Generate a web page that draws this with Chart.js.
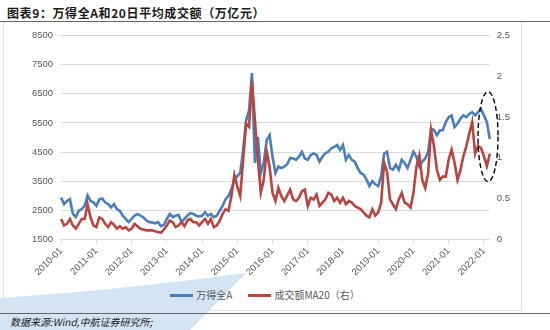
<!DOCTYPE html>
<html>
<head>
<meta charset="utf-8">
<script src="https://cdn.jsdelivr.net/npm/chart.js@4.4.1/dist/chart.umd.min.js"></script>
<style>
  body { margin: 0; width: 550px; height: 330px; background: #fff; position: relative; overflow: hidden; font-family: "Noto Sans CJK SC", sans-serif; }
  #swoosh { position: absolute; left: 0; top: 0; }
  #title { position: absolute; left: 7px; top: 4px; font-size: 12px; font-weight: bold; color: #1a1a1a; letter-spacing: 0.6px; }
  #rule { position: absolute; left: 0; top: 21px; width: 550px; height: 1px; background: #666; }
  #frame { position: absolute; left: 3px; top: 22px; width: 517px; height: 288px; border-left: 1px solid #e2e2e2; border-right: 1px solid #e2e2e2; border-bottom: 1px solid #e2e2e2; }
  #box { position: absolute; left: 0; top: 22px; }
  #legend { position: absolute; left: 0; top: 288px; width: 530px; text-align: center; font-size: 10px; color: #595959; line-height: 14px; }
  #legend span.item { display: inline-block; margin: 0 8px; }
  #legend span.swatch { display: inline-block; width: 23px; height: 3px; vertical-align: middle; margin-right: 3px; position: relative; top: -1px; }
  #srcrule { position: absolute; left: 0; top: 313px; width: 550px; height: 1px; background: #666; }
  #src { position: absolute; left: 10px; top: 314px; font-size: 10px; font-style: italic; color: #1a1a1a; }
</style>
</head>
<body>
<svg id="swoosh" width="550" height="330"><path d="M0,298 Q120,290 246,273 L190,330 L0,330 Z" fill="#d3e5f4"/></svg>
<div id="title">图表9：万得全A和20日平均成交额（万亿元）</div>
<div id="rule"></div>
<div id="frame"></div>
<div id="box"><canvas id="chart" width="520" height="258"></canvas></div>
<div id="legend"></div>
<div id="srcrule"></div>
<div id="src">数据来源:Wind,中航证券研究所;</div>
<script>
// monthly, 2010-01 .. 2022-03
const startYear = 2010;
const monthCount = 147;
const months = [];
for (let i = 0; i < monthCount; i++) {
  const y = startYear + Math.floor(i / 12);
  const m = (i % 12) + 1;
  months.push(y + '-' + (m < 10 ? '0' + m : m));
}

// 万得全A (left axis)
const windA = [
  2940, 2710, 2820, 2880, 2370, 2260, 2480, 2540, 2650, 3010, 2820, 2770,
  2650, 2870, 2900, 2770, 2710, 2600, 2710, 2540, 2480, 2310, 2200, 2090,
  2200, 2310, 2370, 2310, 2260, 2150, 2090, 2080, 2050, 2090, 1950, 2000,
  2200, 2370, 2260, 2310, 2340, 2090, 2200, 2310, 2400, 2370, 2310, 2290,
  2310, 2430, 2310, 2370, 2260, 2310, 2480, 2650, 2880, 2990, 3220, 3560,
  3670, 3780, 4570, 5590, 5930, 7220, 4130, 5020, 3780, 4130, 4910, 5080,
  4340, 3780, 4000, 3950, 4000, 4080, 4300, 4280, 4230, 4340, 4510, 4280,
  4230, 4400, 4450, 4400, 4170, 4340, 4460, 4510, 4630, 4680, 4740, 4570,
  4740, 4230, 4400, 4230, 4170, 3950, 3780, 3720, 3560, 3330, 3500, 3390,
  3330, 3670, 4450, 4510, 3950, 3890, 4060, 3890, 4230, 4120, 3950, 4230,
  4510, 4340, 4000, 4170, 4280, 4510, 5310, 5250, 5080, 5250, 5250, 5530,
  5700, 5760, 5360, 5470, 5650, 5760, 5700, 5810, 5870, 5760, 5870, 5980,
  5760, 5530, 4950
];

// 成交额MA20 (right axis, 万亿元)
const turnoverMA20 = [
  0.25, 0.17, 0.19, 0.25, 0.17, 0.13, 0.19, 0.25, 0.25, 0.43, 0.27, 0.17,
  0.15, 0.27, 0.25, 0.19, 0.15, 0.21, 0.18, 0.13, 0.16, 0.13, 0.15, 0.11,
  0.13, 0.19, 0.16, 0.13, 0.12, 0.11, 0.11, 0.11, 0.10, 0.09, 0.08, 0.12,
  0.17, 0.23, 0.21, 0.15, 0.17, 0.21, 0.16, 0.23, 0.25, 0.21, 0.21, 0.17,
  0.21, 0.25, 0.19, 0.25, 0.15, 0.17, 0.23, 0.31, 0.37, 0.35, 0.53, 0.79,
  0.65, 0.53, 0.98, 1.42, 1.38, 1.94, 1.46, 0.98, 0.57, 0.73, 1.08, 0.89,
  0.57, 0.47, 0.63, 0.53, 0.47, 0.54, 0.61, 0.49, 0.47, 0.51, 0.59, 0.61,
  0.41, 0.51, 0.49, 0.55, 0.41, 0.45, 0.49, 0.57, 0.55, 0.47, 0.51, 0.45,
  0.51, 0.43, 0.47, 0.45, 0.41, 0.39, 0.37, 0.33, 0.29, 0.27, 0.37, 0.29,
  0.33, 0.45, 0.94, 0.83, 0.49, 0.43, 0.37, 0.49, 0.57, 0.45, 0.43, 0.39,
  0.57, 0.89, 1.03, 0.73, 0.63, 0.81, 1.34, 1.14, 0.85, 0.73, 0.77, 0.77,
  0.98, 1.10, 0.94, 0.73, 0.85, 1.02, 1.14, 1.30, 1.44, 1.05, 1.15, 1.12,
  1.02, 0.90, 1.05
];

const leftTicks = [1500, 2500, 3500, 4500, 5500, 6500, 7500, 8500];
const rightTicks = [0, 0.5, 1, 1.5, 2, 2.5];

// dashed ellipse around the latest readings
const ellipsePlugin = {
  id: 'ellipse',
  afterDatasetsDraw(chart) {
    const ctx = chart.ctx;
    const cx = chart.scales.x.getPixelForValue(145.4);
    const cy = chart.scales.y1.getPixelForValue(1.26);
    ctx.save();
    ctx.beginPath();
    ctx.setLineDash([5, 3]);
    ctx.lineWidth = 1.4;
    ctx.strokeStyle = '#000';
    ctx.ellipse(cx, cy, 10, 45, 0, 0, Math.PI * 2);
    ctx.stroke();
    ctx.restore();
  }
};

const tickFont = { family: 'Liberation Sans, Arial, sans-serif', size: 9.5 };

const chart = new Chart(document.getElementById('chart'), {
  type: 'line',
  data: {
    labels: months,
    datasets: [
      {
        label: '万得全A',
        data: windA,
        yAxisID: 'y',
        borderColor: '#4a7ebb',
        backgroundColor: '#4a7ebb',
        borderWidth: 2.6,
        pointRadius: 0,
        tension: 0,
        order: 1
      },
      {
        label: '成交额MA20（右）',
        data: turnoverMA20,
        yAxisID: 'y1',
        borderColor: '#b8453f',
        backgroundColor: '#b8453f',
        borderWidth: 2.6,
        pointRadius: 0,
        tension: 0,
        order: 0
      }
    ]
  },
  options: {
    responsive: false,
    animation: false,
    layout: { padding: { top: 6, left: 24, right: 3, bottom: 0 } },
    plugins: {
      tooltip: { enabled: false },
      legend: { display: false }
    },
    scales: {
      x: {
        grid: { display: true, drawOnChartArea: false, drawTicks: true, tickLength: 4, color: '#d9d9d9' },
        border: { display: true, color: '#d9d9d9' },
        ticks: {
          autoSkip: false,
          maxRotation: 45,
          minRotation: 45,
          padding: 2,
          color: '#595959',
          font: tickFont,
          callback: function(val, idx) {
            return idx % 12 === 0 ? months[idx] : null;
          }
        }
      },
      y: {
        position: 'left',
        min: leftTicks[0],
        max: leftTicks[leftTicks.length - 1],
        border: { display: false },
        grid: { color: '#d9d9d9', drawTicks: false },
        ticks: { stepSize: 1000, padding: 8, color: '#595959', font: tickFont, callback: v => String(v) }
      },
      y1: {
        position: 'right',
        min: rightTicks[0],
        max: rightTicks[rightTicks.length - 1],
        border: { display: false },
        grid: { display: false, drawTicks: false },
        ticks: { stepSize: 0.5, padding: 7, color: '#595959', font: tickFont, callback: v => String(v) }
      }
    }
  },
  plugins: [ellipsePlugin]
});

// legend built from the dataset definitions
const legendEl = document.getElementById('legend');
chart.data.datasets.forEach(ds => {
  const item = document.createElement('span');
  item.className = 'item';
  const sw = document.createElement('span');
  sw.className = 'swatch';
  sw.style.background = ds.borderColor;
  item.appendChild(sw);
  item.appendChild(document.createTextNode(ds.label));
  legendEl.appendChild(item);
});
</script>
</body>
</html>
